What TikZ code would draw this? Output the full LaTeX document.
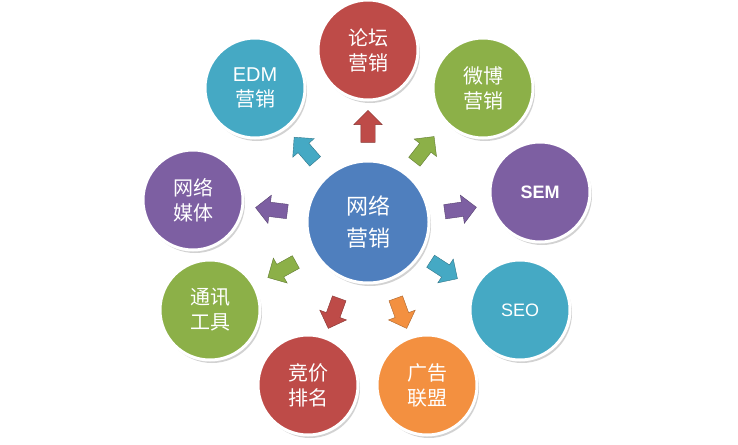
\documentclass[tikz,border=0pt]{standalone}
\usepackage{fontspec}
\setmainfont{Liberation Sans}
\newfontfamily\cjk{Noto Sans CJK SC}
\usetikzlibrary{shapes.arrows,shadows}
\definecolor{cred}{HTML}{BE4B48}
\definecolor{cgreen}{HTML}{8CB048}
\definecolor{cpurple}{HTML}{7D5FA2}
\definecolor{cteal}{HTML}{45A9C4}
\definecolor{corange}{HTML}{F39040}
\definecolor{cblue}{HTML}{4F7FBE}
\tikzset{
  ball/.style={circle, fill=#1, draw=white, line width=3pt, minimum size=100pt, inner sep=0pt,
    text=white, font=\cjk\fontsize{20}{25}\selectfont, align=center,
    drop shadow={shadow xshift=2pt, shadow yshift=-3pt, opacity=0.35}},
  blk/.style={single arrow, fill=#1, draw=#1!70!black, line width=0.4pt, minimum height=32pt,
    text width=14pt, text height=7pt, text depth=7pt, inner sep=0pt, single arrow head extend=7pt,
    single arrow tip angle=90}
}
\begin{document}
\begin{tikzpicture}[x=1pt,y=-1pt]
\useasboundingbox (0,0) rectangle (738,444);
\fill[white] (0,0) rectangle (738,444);
\node[ball=cblue, minimum size=122pt, font=\cjk\fontsize{22}{32}\selectfont] (c) at (368,222) {网络\\营销};
\node[ball=cred] (a1) at (368,50) {论坛\\营销};
\node[ball=cgreen] (a2) at (483,88) {微博\\营销};
\node[ball=cpurple, font=\bfseries\fontsize{18}{22}\selectfont] (a3) at (540,192) {SEM};
\node[ball=cteal, font=\fontsize{18}{22}\selectfont] (a4) at (520,310) {SEO};
\node[ball=corange] (a5) at (427,385) {广告\\联盟};
\node[ball=cred] (a6) at (308,385) {竞价\\排名};
\node[ball=cgreen] (a7) at (210,310) {通讯\\工具};
\node[ball=cpurple] (a8) at (193,200) {网络\\媒体};
\node[ball=cteal] (a9) at (255,88) {{\fontspec{Liberation Sans}EDM}\\营销};
\node[blk=cred, rotate=90] (b1) at (368,130) {};
\node[blk=cgreen, rotate=52] (b2) at (422,152) {};
\node[blk=cpurple, rotate=8] (b3) at (457,210) {};
\node[blk=cteal, rotate=-33] (b4) at (441,268) {};
\node[blk=corange, rotate=-70] (b5) at (400,310) {};
\node[blk=cred, rotate=-110] (b6) at (335,310) {};
\node[blk=cgreen, rotate=-151] (b7) at (285,268) {};
\node[blk=cpurple, rotate=173] (b8) at (275,210) {};
\node[blk=cteal, rotate=131] (b9) at (307,152) {};
\end{tikzpicture}
\end{document}
